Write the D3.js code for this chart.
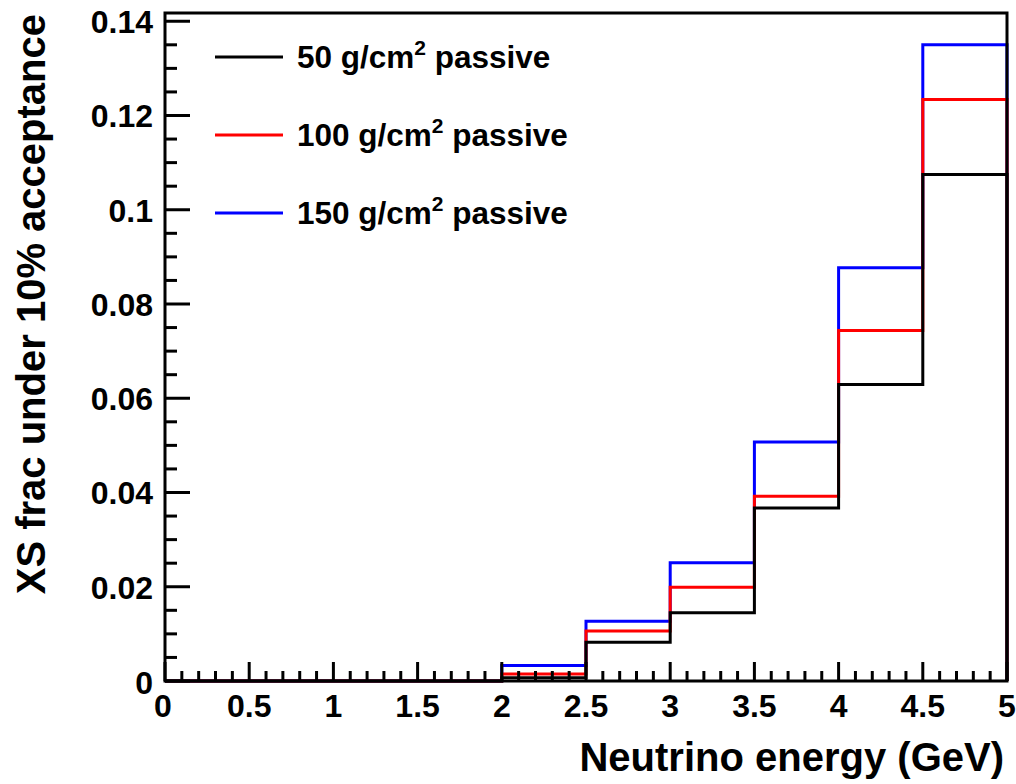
<!DOCTYPE html>
<html>
<head>
<meta charset="utf-8">
<script src="https://cdn.jsdelivr.net/npm/d3@7"></script>
<style>
  html, body { margin: 0; padding: 0; background: #fff; }
  svg { display: block; }
  text { font-family: "Liberation Sans", Arial, Helvetica, sans-serif; font-weight: bold; fill: #000; }
</style>
</head>
<body>
<svg id="chart" width="1016" height="784"></svg>
<script>
// ---- data ----
const binEdges = [0, 0.5, 1, 1.5, 2, 2.5, 3, 3.5, 4, 4.5, 5];
const seriesNames = ["50", "100", "150"];
const seriesColors = ["#000000", "#ff0000", "#0000ff"];
const values50  = [0, 0, 0, 0, 0.0007, 0.0082, 0.0145, 0.0367, 0.0629, 0.1075];
const values100 = [0, 0, 0, 0, 0.0015, 0.0106, 0.0199, 0.0392, 0.0744, 0.1234];
const values150 = [0, 0, 0, 0, 0.0033, 0.0127, 0.0251, 0.0507, 0.0877, 0.1350];
const xTicks = [0, 0.5, 1, 1.5, 2, 2.5, 3, 3.5, 4, 4.5, 5];
const xTickLabels = ["0", "0.5", "1", "1.5", "2", "2.5", "3", "3.5", "4", "4.5", "5"];
const yTicks = [0, 0.02, 0.04, 0.06, 0.08, 0.1, 0.12, 0.14];
const yTickLabels = ["0", "0.02", "0.04", "0.06", "0.08", "0.1", "0.12", "0.14"];
const xTitle = "Neutrino energy (GeV)";
const yTitle = "XS frac under 10% acceptance";

const svg = d3.select("#chart");
const L = 165, R = 1007, T = 13, B = 681;
const x = d3.scaleLinear().domain([0, 5]).range([L, R]);
const y = d3.scaleLinear().domain([0, 0.14175]).range([B, T]);

// histograms (blue first, black on top)
const allValues = [values50, values100, values150];
const order = [2, 1, 0];
order.forEach(i => {
  const vals = allValues[i];
  const pts = [];
  vals.forEach((v, k) => {
    pts.push([binEdges[k], v]);
    pts.push([binEdges[k + 1], v]);
  });
  pts.push([binEdges[binEdges.length - 1], 0]);
  svg.append("path")
    .attr("d", d3.line().x(d => x(d[0])).y(d => y(d[1]))(pts))
    .attr("fill", "none")
    .attr("stroke", seriesColors[i])
    .attr("stroke-width", 3)
    .attr("stroke-linejoin", "miter");
});

// axes ticks
const g = svg.append("g");
const xMinor = d3.range(0, 50.5, 1).map(d => d / 10);
xMinor.forEach(v => {
  const major = Math.abs(v * 2 - Math.round(v * 2)) < 1e-6;
  g.append("line").attr("x1", x(v)).attr("x2", x(v))
    .attr("y1", B).attr("y2", B - (major ? 19 : 10))
    .attr("stroke", "#000").attr("stroke-width", 3);
});
const yMinor = d3.range(0, 28.5, 1).map(d => d * 0.005);
yMinor.forEach(v => {
  const major = Math.abs(v / 0.02 - Math.round(v / 0.02)) < 1e-6;
  if (y(v) < T) return;
  g.append("line").attr("x1", L).attr("x2", L + (major ? 25 : 12))
    .attr("y1", y(v)).attr("y2", y(v))
    .attr("stroke", "#000").attr("stroke-width", 3);
});

// frame
svg.append("rect").attr("x", L).attr("y", T).attr("width", R - L).attr("height", B - T)
  .attr("fill", "none").attr("stroke", "#000").attr("stroke-width", 3);

// x tick labels
xTicks.forEach((v, k) => {
  svg.append("text").attr("x", v === 0 ? x(v) - 2 : x(v)).attr("y", B + 36)
    .attr("text-anchor", "middle").attr("font-size", 32)
    .text(xTickLabels[k]);
});
// y tick labels
yTicks.forEach((v, k) => {
  svg.append("text").attr("x", L - 12).attr("y", v === 0 ? y(v) + 13 : y(v) + 12)
    .attr("text-anchor", "end").attr("font-size", 32)
    .text(yTickLabels[k]);
});

// axis titles
svg.append("text").attr("x", 1004).attr("y", 771)
  .attr("text-anchor", "end").attr("font-size", 40).text(xTitle);
svg.append("text").attr("transform", "translate(45,14) rotate(-90)")
  .attr("text-anchor", "end").attr("font-size", 40).text(yTitle);

// legend
const legY = [57, 135, 213];
seriesNames.forEach((n, i) => {
  svg.append("line").attr("x1", 215).attr("x2", 283)
    .attr("y1", legY[i]).attr("y2", legY[i])
    .attr("stroke", seriesColors[i]).attr("stroke-width", 3);
  const t = svg.append("text").attr("x", 297).attr("y", legY[i] + 11).attr("font-size", 31.5);
  t.append("tspan").text(n + " g/cm");
  t.append("tspan").attr("font-size", 21).attr("dy", -13).text("2");
  t.append("tspan").attr("dy", 13).text(" passive");
});
</script>
</body>
</html>
